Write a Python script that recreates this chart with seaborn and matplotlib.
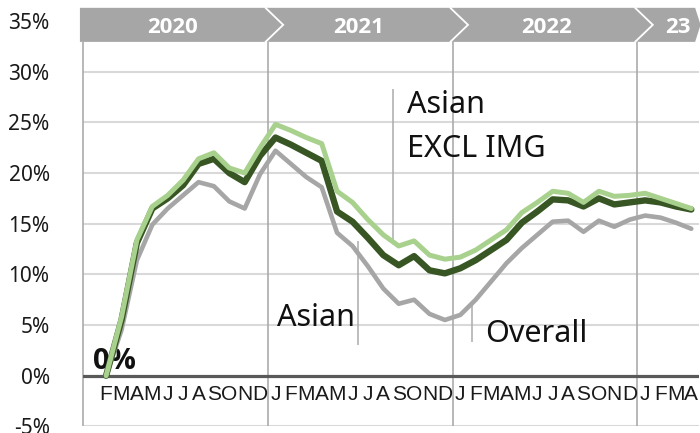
import numpy as np
import pandas as pd
import seaborn as sns
import matplotlib.pyplot as plt
from matplotlib import font_manager
from matplotlib.patches import Polygon

# monthly values, Feb 2020 .. Apr 2023 (% change)
asian_excl_img = [0, 5.8, 13.4, 16.7, 17.8, 19.3, 21.4, 22.0, 20.5, 20.0,
                  22.5, 24.8, 24.2, 23.5, 22.9, 18.2, 17.1, 15.4, 13.9, 12.8,
                  13.3, 11.9, 11.5, 11.7, 12.4, 13.4, 14.4, 16.1, 17.1, 18.2,
                  18.0, 17.1, 18.2, 17.7, 17.8, 18.0, 17.5, 17.0, 16.5]
asian = [0, 5.5, 13.1, 16.5, 17.5, 18.8, 20.9, 21.4, 20.0, 19.1,
         21.7, 23.5, 22.8, 22.0, 21.2, 16.2, 15.2, 13.6, 11.9, 10.9,
         11.8, 10.4, 10.1, 10.6, 11.4, 12.4, 13.4, 15.1, 16.2, 17.4,
         17.3, 16.7, 17.5, 16.9, 17.1, 17.3, 17.1, 16.7, 16.4]
overall = [0, 4.5, 11.4, 14.9, 16.5, 17.8, 19.1, 18.7, 17.2, 16.5,
           19.9, 22.2, 20.9, 19.6, 18.6, 14.1, 12.8, 10.8, 8.6, 7.1,
           7.5, 6.1, 5.5, 6.0, 7.5, 9.3, 11.1, 12.6, 13.9, 15.2,
           15.3, 14.2, 15.3, 14.7, 15.4, 15.8, 15.6, 15.1, 14.5]
month_letters = ['J', 'F', 'M', 'A', 'M', 'J', 'J', 'A', 'S', 'O', 'N', 'D']
years = ['2020', '2021', '2022', '23']
yticks = [-5, 0, 5, 10, 15, 20, 25, 30, 35]

periods = pd.period_range('2020-02', '2023-04', freq='M')
slot = (periods.year - 2020) * 12 + periods.month - 1   # Jan 2020 = slot 0
df = pd.DataFrame({'slot': slot, 'Asian EXCL IMG': asian_excl_img,
                   'Asian': asian, 'Overall': overall})

sns.set_style('white')
plt.rcParams['font.family'] = ['Noto Sans', 'DejaVu Sans']
fonts = font_manager.fontManager.ttflist
names = {f.name for f in fonts}
narrow = 'Liberation Sans Narrow' if 'Liberation Sans Narrow' in names else 'Liberation Sans'
# a family that really has a bold face
bold_family = 'DejaVu Sans'
for fam in ['Noto Sans', 'Open Sans', 'Lato', 'Roboto', 'Liberation Sans']:
    weights = [f.weight for f in fonts if f.name == fam]
    if any((w if isinstance(w, int) else 700 if w == 'bold' else 400) >= 700 for w in weights):
        bold_family = fam
        break

fig = plt.figure(figsize=(7, 4.33), dpi=100)
ax = fig.add_axes([83 / 700, 1 - 426.4 / 433, 616 / 700, (426.4 - 21) / 433])
ax.set_xlim(-0.5, 39.5)
ax.set_ylim(-5, 35)
for s in ax.spines.values():
    s.set_visible(False)

# grid
for v in yticks:
    if v != 0:
        ax.axhline(v, color='#D9D9D9', lw=1.5, zorder=0)
ax.vlines([-0.5, 11.5, 23.5, 35.5], -5, 32.9, color='#ABABAB', lw=1.2,
          zorder=1, clip_on=False)
ax.axhline(0, color='#595959', lw=2.3, zorder=2)

# leader lines
ax.vlines(19.63, 13.3, 28.3, color='#ABABAB', lw=1.1, zorder=1)
ax.vlines(17.36, 13.3, 3.0, color='#ABABAB', lw=1.1, zorder=1)
ax.vlines(24.76, 7.0, 3.3, color='#ABABAB', lw=1.1, zorder=1)

sns.lineplot(data=df, x='slot', y='Overall', color='#A6A6A6', lw=3.3, ax=ax,
             zorder=3, solid_joinstyle='round', solid_capstyle='round')
sns.lineplot(data=df, x='slot', y='Asian', color='#375623', lw=4.6, ax=ax,
             zorder=4, solid_joinstyle='round', solid_capstyle='round')
sns.lineplot(data=df, x='slot', y='Asian EXCL IMG', color='#A9D18E', lw=3.6, ax=ax,
             zorder=5, solid_joinstyle='round', solid_capstyle='round')
ax.set_xlabel('')
ax.set_ylabel('')

# y ticks
ax.set_yticks(yticks)
ax.set_yticklabels([f'{v}%' for v in yticks], fontsize=15, color='#1a1a1a')
ax.tick_params(axis='y', length=0, pad=24)
ax.set_xticks([])

# month letters
for i in range(1, 40):
    ax.text(i, -2.4, month_letters[i % 12], ha='center', va='baseline',
            fontsize=15, family=narrow, color='#1a1a1a')

# year band
top, mid, bot = 36.3, 34.62, 32.94
band = Polygon([(-0.7, top), (39.25, top), (39.6, mid), (39.25, bot), (-0.7, bot)],
               closed=True, fc='#A6A6A6', ec='none', clip_on=False, zorder=6)
ax.add_patch(band)
for b in [11.5, 23.5, 35.5]:
    ax.plot([b - 0.15, b + 1.0, b - 0.15], [top, mid, bot], color='white', lw=1.3,
            clip_on=False, zorder=7, solid_joinstyle='miter')
for label, xc in zip(years, [5.3, 17.4, 29.6, 38.1]):
    ax.text(xc, 33.85, label, ha='center', va='baseline', fontsize=16,
            fontweight='bold', family=bold_family, color='white', zorder=8,
            clip_on=False)

# annotations
ax.text(20.54, 25.93, 'Asian', fontsize=22, va='baseline', color='#111111')
ax.text(20.54, 21.6, 'EXCL IMG', fontsize=22, va='baseline', color='#111111')
ax.text(12.1, 4.9, 'Asian', fontsize=22, va='baseline', color='#111111')
ax.text(25.6, 3.33, 'Overall', fontsize=22, va='baseline', color='#111111')
ax.text(0.15, 0.66, '0%', fontsize=21, fontweight='bold', family=bold_family,
        va='baseline', color='#111111', zorder=2)

fig.savefig('out.png', dpi=100)
